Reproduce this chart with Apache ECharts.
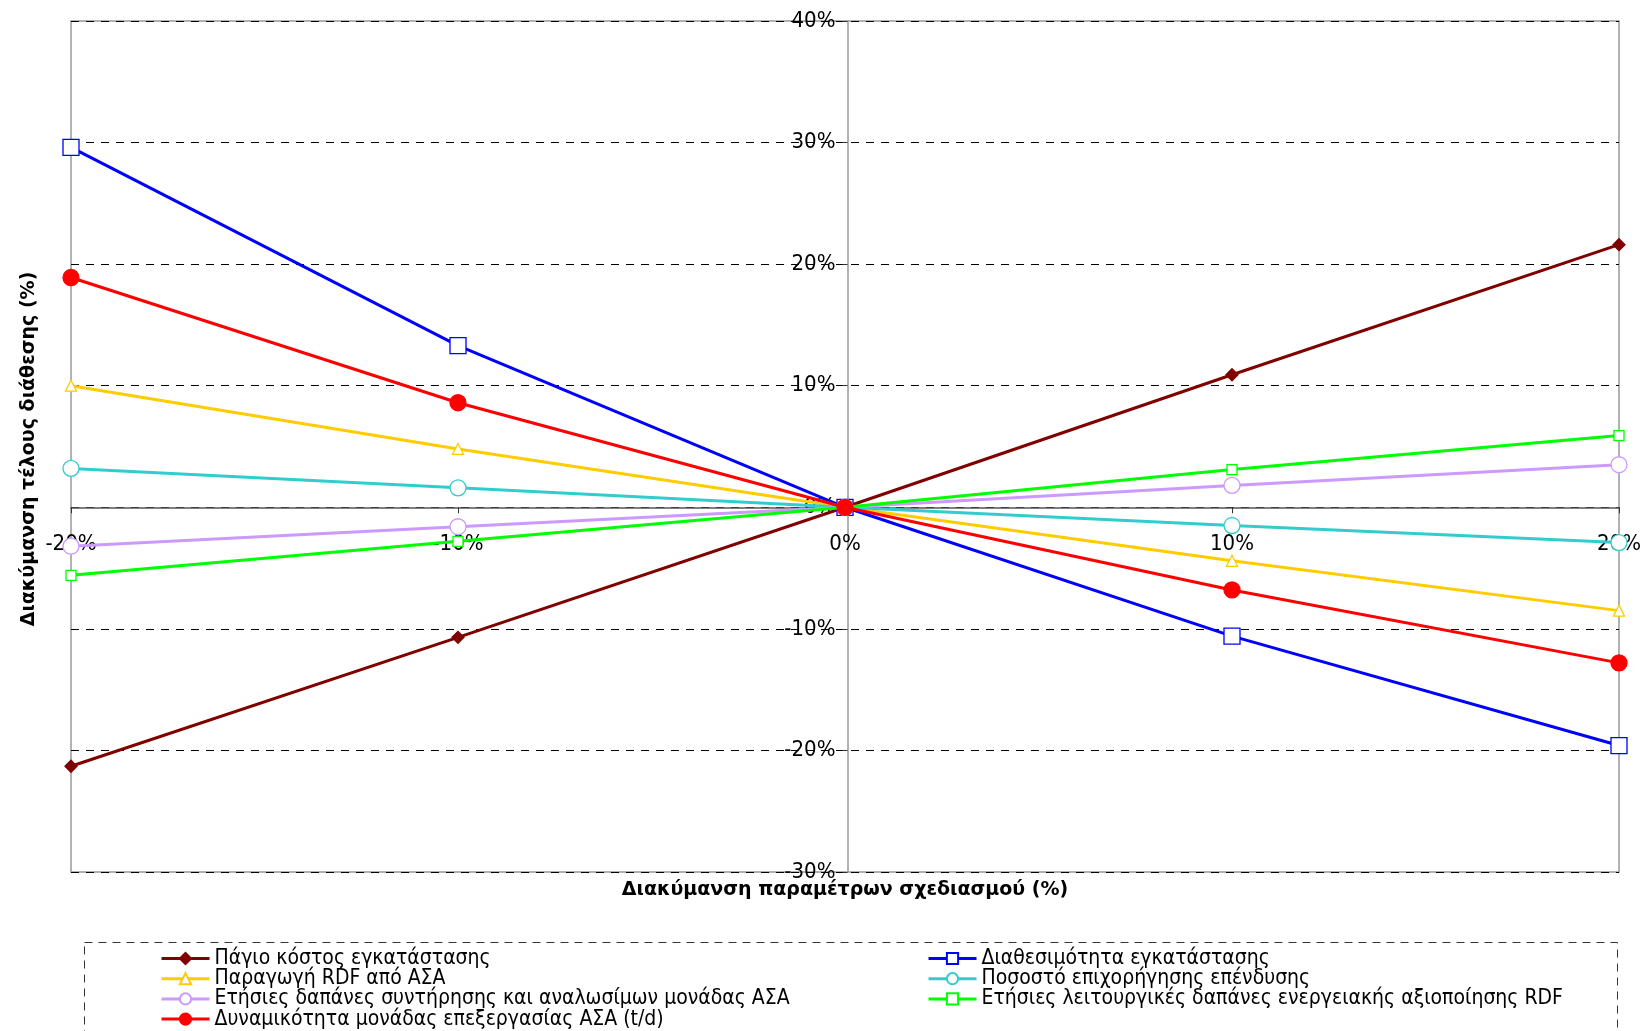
<!DOCTYPE html>
<html>
<head>
<meta charset="utf-8">
<script src="https://cdn.jsdelivr.net/npm/echarts@6/dist/echarts.min.js"></script>
<style>
html,body{margin:0;padding:0;background:#fff;}
#chart{width:1644px;height:1031px;}
</style>
</head>
<body>
<div id="chart"></div>
<script>
// X positions: variation of design parameters (%)
var xValues = [-20, -10, 0, 10, 20];
// Series values: variation of disposal fee (%)
var pagioKostos = [-21.3, -10.7, 0, 10.9, 21.6];
var diathesimotita = [29.6, 13.3, 0, -10.6, -19.6];
var paragogiRDF = [10.0, 4.8, 0, -4.4, -8.5];
var posostoEpixorigisis = [3.2, 1.6, 0, -1.5, -2.9];
var dapanesSyntirisis = [-3.2, -1.6, 0, 1.8, 3.5];
var dapanesLeitourgikes = [-5.6, -2.8, 0, 3.1, 5.9];
var dynamikotita = [18.9, 8.6, 0, -6.8, -12.8];

var seriesNames = [
  'Πάγιο κόστος εγκατάστασης',
  'Διαθεσιμότητα εγκατάστασης',
  'Παραγωγή RDF από ΑΣΑ',
  'Ποσοστό επιχορήγησης επένδυσης',
  'Ετήσιες δαπάνες συντήρησης και αναλωσίμων μονάδας ΑΣΑ',
  'Ετήσιες λειτουργικές δαπάνες ενεργειακής αξιοποίησης RDF',
  'Δυναμικότητα μονάδας επεξεργασίας ΑΣΑ (t/d)'
];
var xAxisName = 'Διακύμανση παραμέτρων σχεδιασμού (%)';
var yAxisName = 'Διακύμανση τέλους διάθεσης (%)';

function pairs(arr){ return xValues.map(function(x,i){ return [x, arr[i]]; }); }

var narrow = "'Liberation Sans Narrow', 'DejaVu Sans Condensed', 'Noto Sans', sans-serif";
var boldFont = "'DejaVu Sans', sans-serif";

var styles = [
  {data: pagioKostos, color:'#800000', symbol:'diamond', size:12, fill:true},
  {data: diathesimotita, color:'#0000FF', symbol:'rect', size:16, fill:false},
  {data: paragogiRDF, color:'#FFCC00', symbol:'triangle', size:11, fill:false},
  {data: posostoEpixorigisis, color:'#33CCCC', symbol:'circle', size:16, fill:false},
  {data: dapanesSyntirisis, color:'#CC99FF', symbol:'circle', size:16, fill:false},
  {data: dapanesLeitourgikes, color:'#00FF00', symbol:'rect', size:10, fill:false},
  {data: dynamikotita, color:'#FF0000', symbol:'circle', size:16, fill:true}
];

var series = styles.map(function(s, i){
  return {
    name: seriesNames[i],
    type: 'line',
    data: pairs(s.data),
    symbol: s.symbol,
    symbolSize: s.size,
    showAllSymbol: true,
    animation: false,
    z: 2 + i,
    lineStyle: {color: s.color, width: 3},
    itemStyle: {color: s.fill ? s.color : '#fff', borderColor: s.color, borderWidth: 1.3, opacity: 1}
  };
});

// grid geometry
var gLeft = 71, gRight = 20, gTop = 21, gBottom = 159;
var W = 1644, H = 1031;
var yMin = -30, yMax = 40, xMin = -20, xMax = 20;
var plotW = W - gLeft - gRight, plotH = H - gTop - gBottom;
var yAxisOffset = -plotW * (0 - xMin) / (xMax - xMin);
var xAxisOffset = -plotH * (0 - yMin) / (yMax - yMin);

var legendCommon = {
  orient: 'vertical', top: 943, height: 140,
  itemWidth: 48, itemHeight: 14, itemGap: -0.8,
  lineStyle: {width: 3},
  textStyle: {fontFamily: narrow, fontSize: 21, color: '#000', lineHeight: 19},
  selectedMode: false
};

var chart = echarts.init(document.getElementById('chart'));
chart.setOption({
  backgroundColor: '#fff',
  animation: false,
  grid: {left: gLeft, right: gRight, top: gTop, bottom: gBottom, show: true, borderColor: '#999', borderWidth: 1.5, backgroundColor: 'transparent'},
  xAxis: {
    type: 'value', min: xMin, max: xMax, interval: 10,
    position: 'bottom', offset: xAxisOffset,
    axisLine: {onZero: false, lineStyle: {color: '#555', width: 1.5}},
    axisTick: {show: true, length: 6, lineStyle: {color: '#333'}},
    axisLabel: {formatter: function(v){ return v + '%'; }, color: '#000', fontFamily: narrow, fontSize: 22, margin: 26},
    splitLine: {show: false}
  },
  yAxis: {
    type: 'value', min: yMin, max: yMax, interval: 10,
    position: 'left', offset: yAxisOffset,
    axisLine: {onZero: false, lineStyle: {color: '#999', width: 1.5}},
    axisTick: {show: true, length: 5, lineStyle: {color: '#333'}},
    axisLabel: {formatter: function(v){ return v + '%'; }, color: '#000', fontFamily: narrow, fontSize: 22, margin: 12},
    splitLine: {show: true, lineStyle: {color: '#000', type: [8, 7], width: 1}}
  },
  legend: [
    Object.assign({}, legendCommon, {
      left: 155,
      data: [seriesNames[0], seriesNames[2], seriesNames[4], seriesNames[6]]
    }),
    Object.assign({}, legendCommon, {
      left: 922,
      data: [seriesNames[1], seriesNames[3], seriesNames[5]]
    })
  ],
  graphic: [
    {
      type: 'rect', left: 82, top: 940, silent: true,
      shape: {x: 0, y: 0, width: 1533, height: 160},
      style: {fill: 'none', stroke: '#333', lineWidth: 1, lineDash: [8, 6]}
    },
    {
      type: 'text', x: 845, y: 890, silent: true,
      style: {text: xAxisName, font: 'bold 19px ' + boldFont, fill: '#000', align: 'center', verticalAlign: 'middle'}
    },
    {
      type: 'text', x: 29, y: 449, rotation: Math.PI / 2, silent: true,
      style: {text: yAxisName, font: 'bold 19px ' + boldFont, fill: '#000', align: 'center', verticalAlign: 'middle'}
    }
  ],
  series: series
});
</script>
</body>
</html>
